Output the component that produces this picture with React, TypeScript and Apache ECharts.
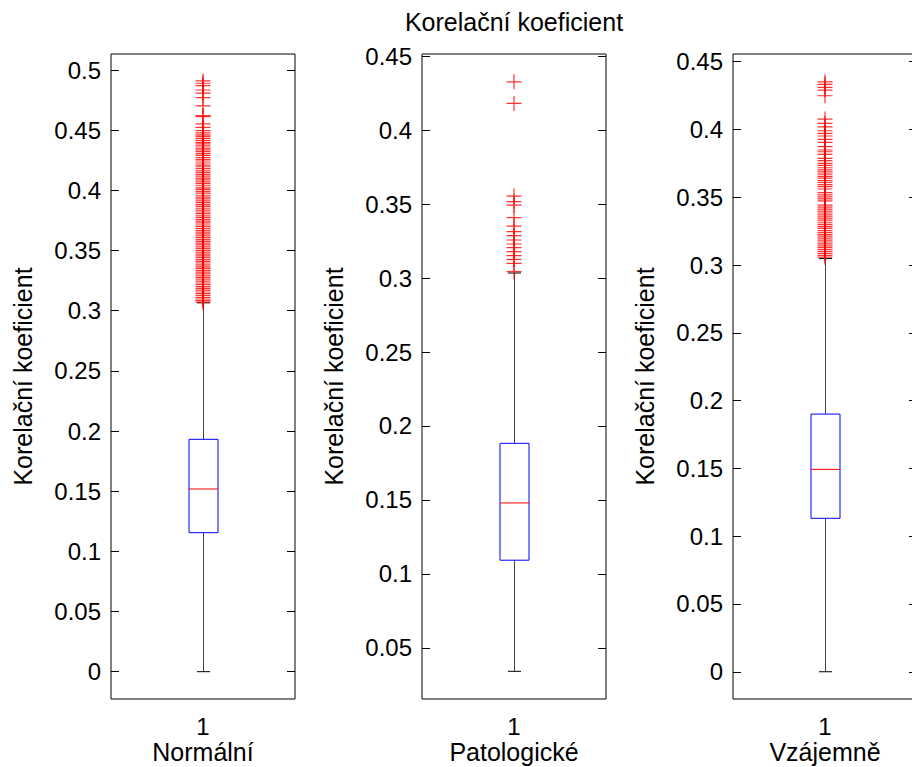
import React, { useEffect, useRef } from 'react';
import * as echarts from 'echarts';

const chartTitle = 'Korelační koeficient';
const yAxisName = 'Korelační koeficient';
const categories = ['Normální', 'Patologické', 'Vzájemně'];
const xTickLabels = ['1'];

// [lowerWhisker, q1, median, q3, upperWhisker]
const boxNormalni = [0.0, 0.1155, 0.1518, 0.1931, 0.3065];
const boxPatologicke = [0.0342, 0.1093, 0.148, 0.1883, 0.3034];
const boxVzajemne = [0.0, 0.1132, 0.1493, 0.1901, 0.3048];

const outliersNormalni = [
  0.4909, 0.489, 0.4871, 0.4834, 0.4808, 0.477, 0.4702, 0.4621, 0.4613, 0.4552, 0.4524, 0.4497,
  0.4478, 0.4461, 0.4449, 0.4432, 0.4415, 0.4398, 0.4386, 0.4369, 0.4351, 0.4337, 0.4322, 0.4305,
  0.4291, 0.4273, 0.4258, 0.4244, 0.4227, 0.421, 0.4196, 0.4181, 0.4163, 0.4149, 0.4132, 0.4118,
  0.4101, 0.4087, 0.407, 0.4056, 0.4038, 0.4021, 0.4008, 0.3991, 0.3977, 0.3959, 0.3944, 0.3929,
  0.3913, 0.3898, 0.3882, 0.3867, 0.3851, 0.3836, 0.382, 0.3806, 0.3789, 0.3775, 0.3758, 0.3744,
  0.3729, 0.3712, 0.3698, 0.3683, 0.3667, 0.3652, 0.3638, 0.3621, 0.3607, 0.3591, 0.3576, 0.3561,
  0.3547, 0.353, 0.3516, 0.35, 0.3486, 0.347, 0.3455, 0.3441, 0.3425, 0.3409, 0.3396, 0.338,
  0.3364, 0.3351, 0.3335, 0.332, 0.3306, 0.329, 0.3275, 0.3261, 0.3245, 0.323, 0.3216, 0.32,
  0.3186, 0.3171, 0.3155, 0.3141, 0.3126, 0.3111, 0.3097, 0.3083, 0.3071,
];

const outliersPatologicke = [
  0.4326, 0.418, 0.3554, 0.3516, 0.3493, 0.3408, 0.3351, 0.3313, 0.3286, 0.3257, 0.323, 0.3205,
  0.3178, 0.3151, 0.3126, 0.3099, 0.3043,
];

const outliersVzajemne = [
  0.4352, 0.4333, 0.4311, 0.4291, 0.4249, 0.4077, 0.4045, 0.402, 0.3991, 0.3972, 0.3952, 0.3927,
  0.3905, 0.3873, 0.3849, 0.3836, 0.3817, 0.3787, 0.377, 0.375, 0.3735, 0.3718, 0.3702, 0.3688,
  0.3671, 0.3655, 0.3641, 0.3624, 0.361, 0.3593, 0.3578, 0.3561, 0.3534, 0.3518, 0.3503, 0.3489,
  0.3473, 0.3442, 0.3427, 0.3413, 0.3398, 0.3384, 0.337, 0.3355, 0.3341, 0.3327, 0.3312, 0.3298,
  0.3284, 0.327, 0.3255, 0.3241, 0.3227, 0.3213, 0.3199, 0.3184, 0.317, 0.3156, 0.3142, 0.3128,
  0.3114, 0.31, 0.3086, 0.3072, 0.3058,
];

const yTicksNormalni = [0, 0.05, 0.1, 0.15, 0.2, 0.25, 0.3, 0.35, 0.4, 0.45, 0.5];
const yTicksPatologicke = [0.05, 0.1, 0.15, 0.2, 0.25, 0.3, 0.35, 0.4, 0.45];
const yTicksVzajemne = [0, 0.05, 0.1, 0.15, 0.2, 0.25, 0.3, 0.35, 0.4, 0.45];

const yLimitsNormalni = [-0.0227, 0.5133];
const yLimitsPatologicke = [0.0155, 0.4514];
const yLimitsVzajemne = [-0.0201, 0.4557];

const FONT = "'Liberation Sans', Arial, Helvetica, sans-serif";

export default function App() {
  const ref = useRef<HTMLDivElement>(null);
  useEffect(() => {
    if (!ref.current) return;
    const chart = echarts.init(ref.current, undefined, { renderer: 'svg' });
    const panels = [
      { box: boxNormalni, out: outliersNormalni, ticks: yTicksNormalni, lim: yLimitsNormalni },
      { box: boxPatologicke, out: outliersPatologicke, ticks: yTicksPatologicke, lim: yLimitsPatologicke },
      { box: boxVzajemne, out: outliersVzajemne, ticks: yTicksVzajemne, lim: yLimitsVzajemne },
    ];
    const lefts = [111, 422, 733];
    const grid: any[] = [];
    const xAxis: any[] = [];
    const yAxis: any[] = [];
    const series: any[] = [];
    const fmt = (v: number) => String(Number(Number(v).toFixed(4)));
    panels.forEach((p, i) => {
      grid.push({
        left: lefts[i], top: 54, width: 184, height: 645,
        outerBoundsMode: 'none', containLabel: false,
        show: true, borderColor: '#000', borderWidth: 1, backgroundColor: 'transparent',
      });
      xAxis.push({
        gridIndex: i, type: 'category', data: xTickLabels,
        axisLine: { show: false }, axisTick: { show: false },
        axisLabel: { fontSize: 24, lineHeight: 22, color: '#000', margin: 16, fontFamily: FONT },
        name: categories[i], nameLocation: 'middle', nameGap: 40, nameMoveOverlap: false,
        nameTextStyle: { fontSize: 25, lineHeight: 26, color: '#000', fontFamily: FONT },
        splitLine: { show: false },
      });
      yAxis.push({
        gridIndex: i, type: 'value', min: p.lim[0], max: p.lim[1], position: 'left',
        axisLine: { show: false },
        axisTick: { show: true, inside: true, length: 8, customValues: p.ticks, lineStyle: { color: '#000', width: 1 } },
        axisLabel: { customValues: p.ticks, fontSize: 24, color: '#000', margin: 10, fontFamily: FONT, formatter: fmt },
        splitLine: { show: false },
        name: yAxisName, nameLocation: 'middle', nameRotate: 90, nameGap: 76,
        nameTextStyle: { fontSize: 25, color: '#000', fontFamily: FONT },
      });
      yAxis.push({
        gridIndex: i, type: 'value', min: p.lim[0], max: p.lim[1], position: 'right',
        axisLine: { show: false },
        axisTick: { show: true, inside: true, length: 8, customValues: p.ticks, lineStyle: { color: '#000', width: 1 } },
        axisLabel: { show: false },
        splitLine: { show: false },
      });
      series.push({
        type: 'custom', xAxisIndex: i, yAxisIndex: 2 * i,
        data: [[0, ...p.box]],
        clip: false,
        renderItem: (params: any, api: any) => {
          const x = api.value(0);
          const lo = api.coord([x, api.value(1)]);
          const q1 = api.coord([x, api.value(2)]);
          const med = api.coord([x, api.value(3)]);
          const q3 = api.coord([x, api.value(4)]);
          const hi = api.coord([x, api.value(5)]);
          const cx = Math.round(lo[0]) + 0.5;
          const bw = 29;
          const cw = 13;
          const wStyle = { stroke: '#444', lineWidth: 1 };
          return {
            type: 'group',
            children: [
              { type: 'line', shape: { x1: cx, y1: q3[1], x2: cx, y2: hi[1] }, style: wStyle },
              { type: 'line', shape: { x1: cx, y1: q1[1], x2: cx, y2: lo[1] }, style: wStyle },
              { type: 'line', shape: { x1: cx - cw / 2, y1: hi[1], x2: cx + cw / 2, y2: hi[1] }, style: { stroke: '#000', lineWidth: 1 } },
              { type: 'line', shape: { x1: cx - cw / 2, y1: lo[1], x2: cx + cw / 2, y2: lo[1] }, style: { stroke: '#000', lineWidth: 1 } },
              { type: 'rect', shape: { x: cx - bw / 2, y: q3[1], width: bw, height: q1[1] - q3[1] }, style: { fill: 'none', stroke: '#0000ff', lineWidth: 1 } },
              { type: 'line', shape: { x1: cx - bw / 2, y1: med[1], x2: cx + bw / 2, y2: med[1] }, style: { stroke: '#ff0000', lineWidth: 1 } },
            ],
          };
        },
        z: 2,
      });
      series.push({
        type: 'scatter', xAxisIndex: i, yAxisIndex: 2 * i,
        data: p.out.map((v) => [0, v]),
        symbol: 'path://M0,7L14,7M7,0L7,14',
        symbolSize: 15,
        itemStyle: { color: 'rgba(0,0,0,0)', borderColor: '#ff0000', borderWidth: 1.2 },
        z: 3,
      });
    });
    chart.setOption({
      animation: false,
      backgroundColor: '#fff',
      textStyle: { fontFamily: FONT },
      grid, xAxis, yAxis, series,
      graphic: [
        {
          type: 'text', x: 514, y: 9,
          style: { text: chartTitle, fontSize: 25, fill: '#000', fontFamily: FONT, textAlign: 'center', textVerticalAlign: 'top' },
        },
      ],
    });
    return () => chart.dispose();
  }, []);
  return <div ref={ref} style={{ position: 'absolute', left: 0, top: 0, width: 912, height: 767 }} />;
}
